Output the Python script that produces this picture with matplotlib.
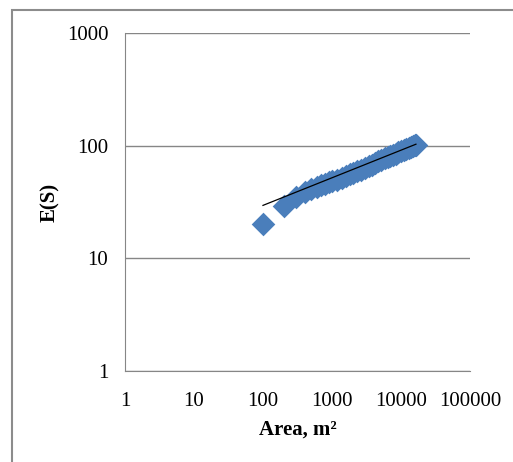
import matplotlib.pyplot as plt
from matplotlib.patches import Rectangle

# area (m2) and E(S)
area = [100, 200, 300, 400, 500, 600, 700, 800, 900, 1000,
        1200, 1400, 1600, 1800, 2000, 2300, 2600, 3000, 3400, 3800,
        4200, 4700, 5200, 5800, 6400, 7000, 7700, 8400, 9200, 10000,
        11000, 12000, 13000, 14000, 15000, 16000, 16500]
es = [20.3, 29, 35, 38.5, 41, 43, 44.5, 46, 47.5, 48.5,
      50, 52, 54, 55.5, 57, 59, 61, 63.5, 66, 68,
      70, 72.5, 74.5, 77, 79, 80.5, 83, 85, 87.5, 89.5,
      92, 94, 96, 97.5, 99, 100.5, 101.5]

# power trendline end points, as drawn
trend_x = [100, 16500]
trend_y = [29.5, 103]

x_ticks = [1, 10, 100, 1000, 10000, 100000]
y_ticks = [1, 10, 100, 1000]

plt.rcParams['font.family'] = ['Liberation Serif', 'DejaVu Serif']

fig = plt.figure(figsize=(5.13, 4.62), dpi=100)
ax = fig.add_axes([0.2437, 0.197, 0.6723, 0.7316])

# outer chart frame (runs off the right and bottom edges)
fig.patches.append(Rectangle((12 / 513, -0.1), 1.2, 1 - 10 / 462 + 0.1,
                             transform=fig.transFigure, fill=False,
                             edgecolor='#8c8c8c', linewidth=1.5))

ax.scatter(area, es, marker='D', s=145, color='#4a7ebb', linewidths=0, zorder=3)
ax.plot(trend_x, trend_y, color='black', linewidth=0.9, zorder=4)

ax.set_xscale('log')
ax.set_yscale('log')
ax.set_xlim(1, 100000)
ax.set_ylim(1, 1000)
ax.set_xticks(x_ticks)
ax.set_xticklabels([str(v) for v in x_ticks])
ax.set_yticks(y_ticks)
ax.set_yticklabels([str(v) for v in y_ticks])
ax.minorticks_off()
ax.tick_params(length=0, labelsize=15)
ax.tick_params(axis='y', pad=12)
ax.tick_params(axis='x', pad=15)

ax.grid(True, axis='y', color='#868686', linewidth=1)
ax.set_axisbelow(True)
for s in ['top', 'right']:
    ax.spines[s].set_visible(False)
for s in ['left', 'bottom']:
    ax.spines[s].set_color('#868686')

ax.set_xlabel('Area, m²', fontsize=15, fontweight='bold', labelpad=6)
ax.set_ylabel('E(S)', fontsize=15, fontweight='bold', labelpad=5)

fig.savefig('out.png', dpi=100)
